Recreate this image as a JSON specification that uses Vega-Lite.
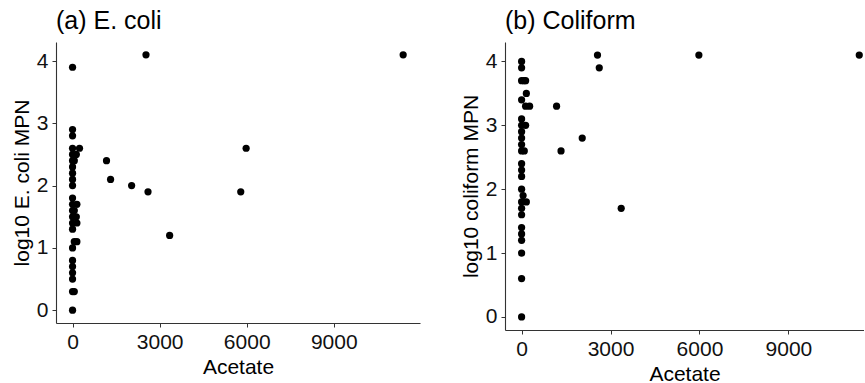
{
  "$schema": "https://vega.github.io/schema/vega-lite/v6.json",
  "background": "white",
  "padding": {"left": 11, "top": 9, "right": 0, "bottom": 0},
  "spacing": 40,
  "datasets": {
    "ecoli": [
      {"acetate": 0, "log10": 3.9}, {"acetate": 0, "log10": 2.9}, {"acetate": 0, "log10": 2.8},
      {"acetate": 0, "log10": 2.6}, {"acetate": 240, "log10": 2.6}, {"acetate": 0, "log10": 2.5},
      {"acetate": 130, "log10": 2.5}, {"acetate": 0, "log10": 2.4}, {"acetate": 60, "log10": 2.4},
      {"acetate": 0, "log10": 2.3}, {"acetate": 0, "log10": 2.2}, {"acetate": 0, "log10": 2.1},
      {"acetate": 0, "log10": 2.0}, {"acetate": 0, "log10": 1.8}, {"acetate": 0, "log10": 1.7},
      {"acetate": 150, "log10": 1.7}, {"acetate": 0, "log10": 1.6}, {"acetate": 60, "log10": 1.6},
      {"acetate": 0, "log10": 1.5}, {"acetate": 130, "log10": 1.5}, {"acetate": 0, "log10": 1.4},
      {"acetate": 150, "log10": 1.4}, {"acetate": 0, "log10": 1.3}, {"acetate": 60, "log10": 1.1},
      {"acetate": 150, "log10": 1.1}, {"acetate": 0, "log10": 1.0}, {"acetate": 0, "log10": 0.8},
      {"acetate": 0, "log10": 0.7}, {"acetate": 0, "log10": 0.6}, {"acetate": 0, "log10": 0.5},
      {"acetate": 0, "log10": 0.3}, {"acetate": 60, "log10": 0.3}, {"acetate": 0, "log10": 0.0},
      {"acetate": 2530, "log10": 4.1}, {"acetate": 11390, "log10": 4.1}, {"acetate": 1170, "log10": 2.4},
      {"acetate": 1310, "log10": 2.1}, {"acetate": 2035, "log10": 2.0}, {"acetate": 2600, "log10": 1.9},
      {"acetate": 3345, "log10": 1.2}, {"acetate": 5795, "log10": 1.9}, {"acetate": 5980, "log10": 2.6}
    ],
    "coli": [
      {"acetate": 0, "log10": 4.0}, {"acetate": 0, "log10": 3.9}, {"acetate": 0, "log10": 3.7},
      {"acetate": 80, "log10": 3.7}, {"acetate": 135, "log10": 3.7}, {"acetate": 160, "log10": 3.5},
      {"acetate": 0, "log10": 3.4}, {"acetate": 135, "log10": 3.3}, {"acetate": 270, "log10": 3.3},
      {"acetate": 0, "log10": 3.1}, {"acetate": 0, "log10": 3.0}, {"acetate": 135, "log10": 3.0},
      {"acetate": 0, "log10": 2.9}, {"acetate": 0, "log10": 2.8}, {"acetate": 0, "log10": 2.7},
      {"acetate": 0, "log10": 2.6}, {"acetate": 90, "log10": 2.6}, {"acetate": 0, "log10": 2.4},
      {"acetate": 0, "log10": 2.3}, {"acetate": 0, "log10": 2.2}, {"acetate": 0, "log10": 2.0},
      {"acetate": 50, "log10": 1.9}, {"acetate": 0, "log10": 1.8}, {"acetate": 160, "log10": 1.8},
      {"acetate": 0, "log10": 1.7}, {"acetate": 0, "log10": 1.6}, {"acetate": 0, "log10": 1.4},
      {"acetate": 0, "log10": 1.3}, {"acetate": 0, "log10": 1.2}, {"acetate": 0, "log10": 1.0},
      {"acetate": 0, "log10": 0.6}, {"acetate": 0, "log10": 0.0},
      {"acetate": 2560, "log10": 4.1}, {"acetate": 2620, "log10": 3.9}, {"acetate": 5980, "log10": 4.1},
      {"acetate": 11390, "log10": 4.1}, {"acetate": 1180, "log10": 3.3}, {"acetate": 2045, "log10": 2.8},
      {"acetate": 1330, "log10": 2.6}, {"acetate": 3360, "log10": 1.7}
    ]
  },
  "config": {
    "font": "Liberation Sans",
    "view": {"stroke": null},
    "axis": {
      "grid": false,
      "domainColor": "#333333",
      "domainWidth": 1.1,
      "tickColor": "#333333",
      "tickSize": 4,
      "labelFontSize": 21,
      "labelColor": "#111111",
      "labelPadding": 4,
      "labelFlush": false,
      "labelOverlap": false,
      "titleFontSize": 21,
      "titleFontWeight": "normal",
      "titleColor": "#000000"
    },
    "title": {"fontSize": 25, "fontWeight": "normal", "anchor": "start", "frame": "group", "color": "#000000", "offset": 8}
  },
  "hconcat": [
    {
      "title": "(a) E. coli",
      "width": 364,
      "height": 281,
      "data": {"name": "ecoli"},
      "mark": {"type": "circle", "size": 52, "opacity": 1, "color": "#000000"},
      "encoding": {
        "x": {"field": "acetate", "type": "quantitative",
              "scale": {"domain": [-570, 11970], "nice": false, "zero": false},
              "axis": {"values": [0, 3000, 6000, 9000], "format": "d", "title": "Acetate"}},
        "y": {"field": "log10", "type": "quantitative",
              "scale": {"domain": [-0.205, 4.305], "nice": false, "zero": false},
              "axis": {"values": [0, 1, 2, 3, 4], "format": "d", "title": "log10 E. coli MPN"}}
      }
    },
    {
      "title": "(b) Coliform",
      "width": 359,
      "height": 288,
      "data": {"name": "coli"},
      "mark": {"type": "circle", "size": 52, "opacity": 1, "color": "#000000"},
      "encoding": {
        "x": {"field": "acetate", "type": "quantitative",
              "scale": {"domain": [-560, 11550], "nice": false, "zero": false},
              "axis": {"values": [0, 3000, 6000, 9000], "format": "d", "title": "Acetate"}},
        "y": {"field": "log10", "type": "quantitative",
              "scale": {"domain": [-0.205, 4.305], "nice": false, "zero": false},
              "axis": {"values": [0, 1, 2, 3, 4], "format": "d", "title": "log10 coliform MPN"}}
      }
    }
  ]
}
